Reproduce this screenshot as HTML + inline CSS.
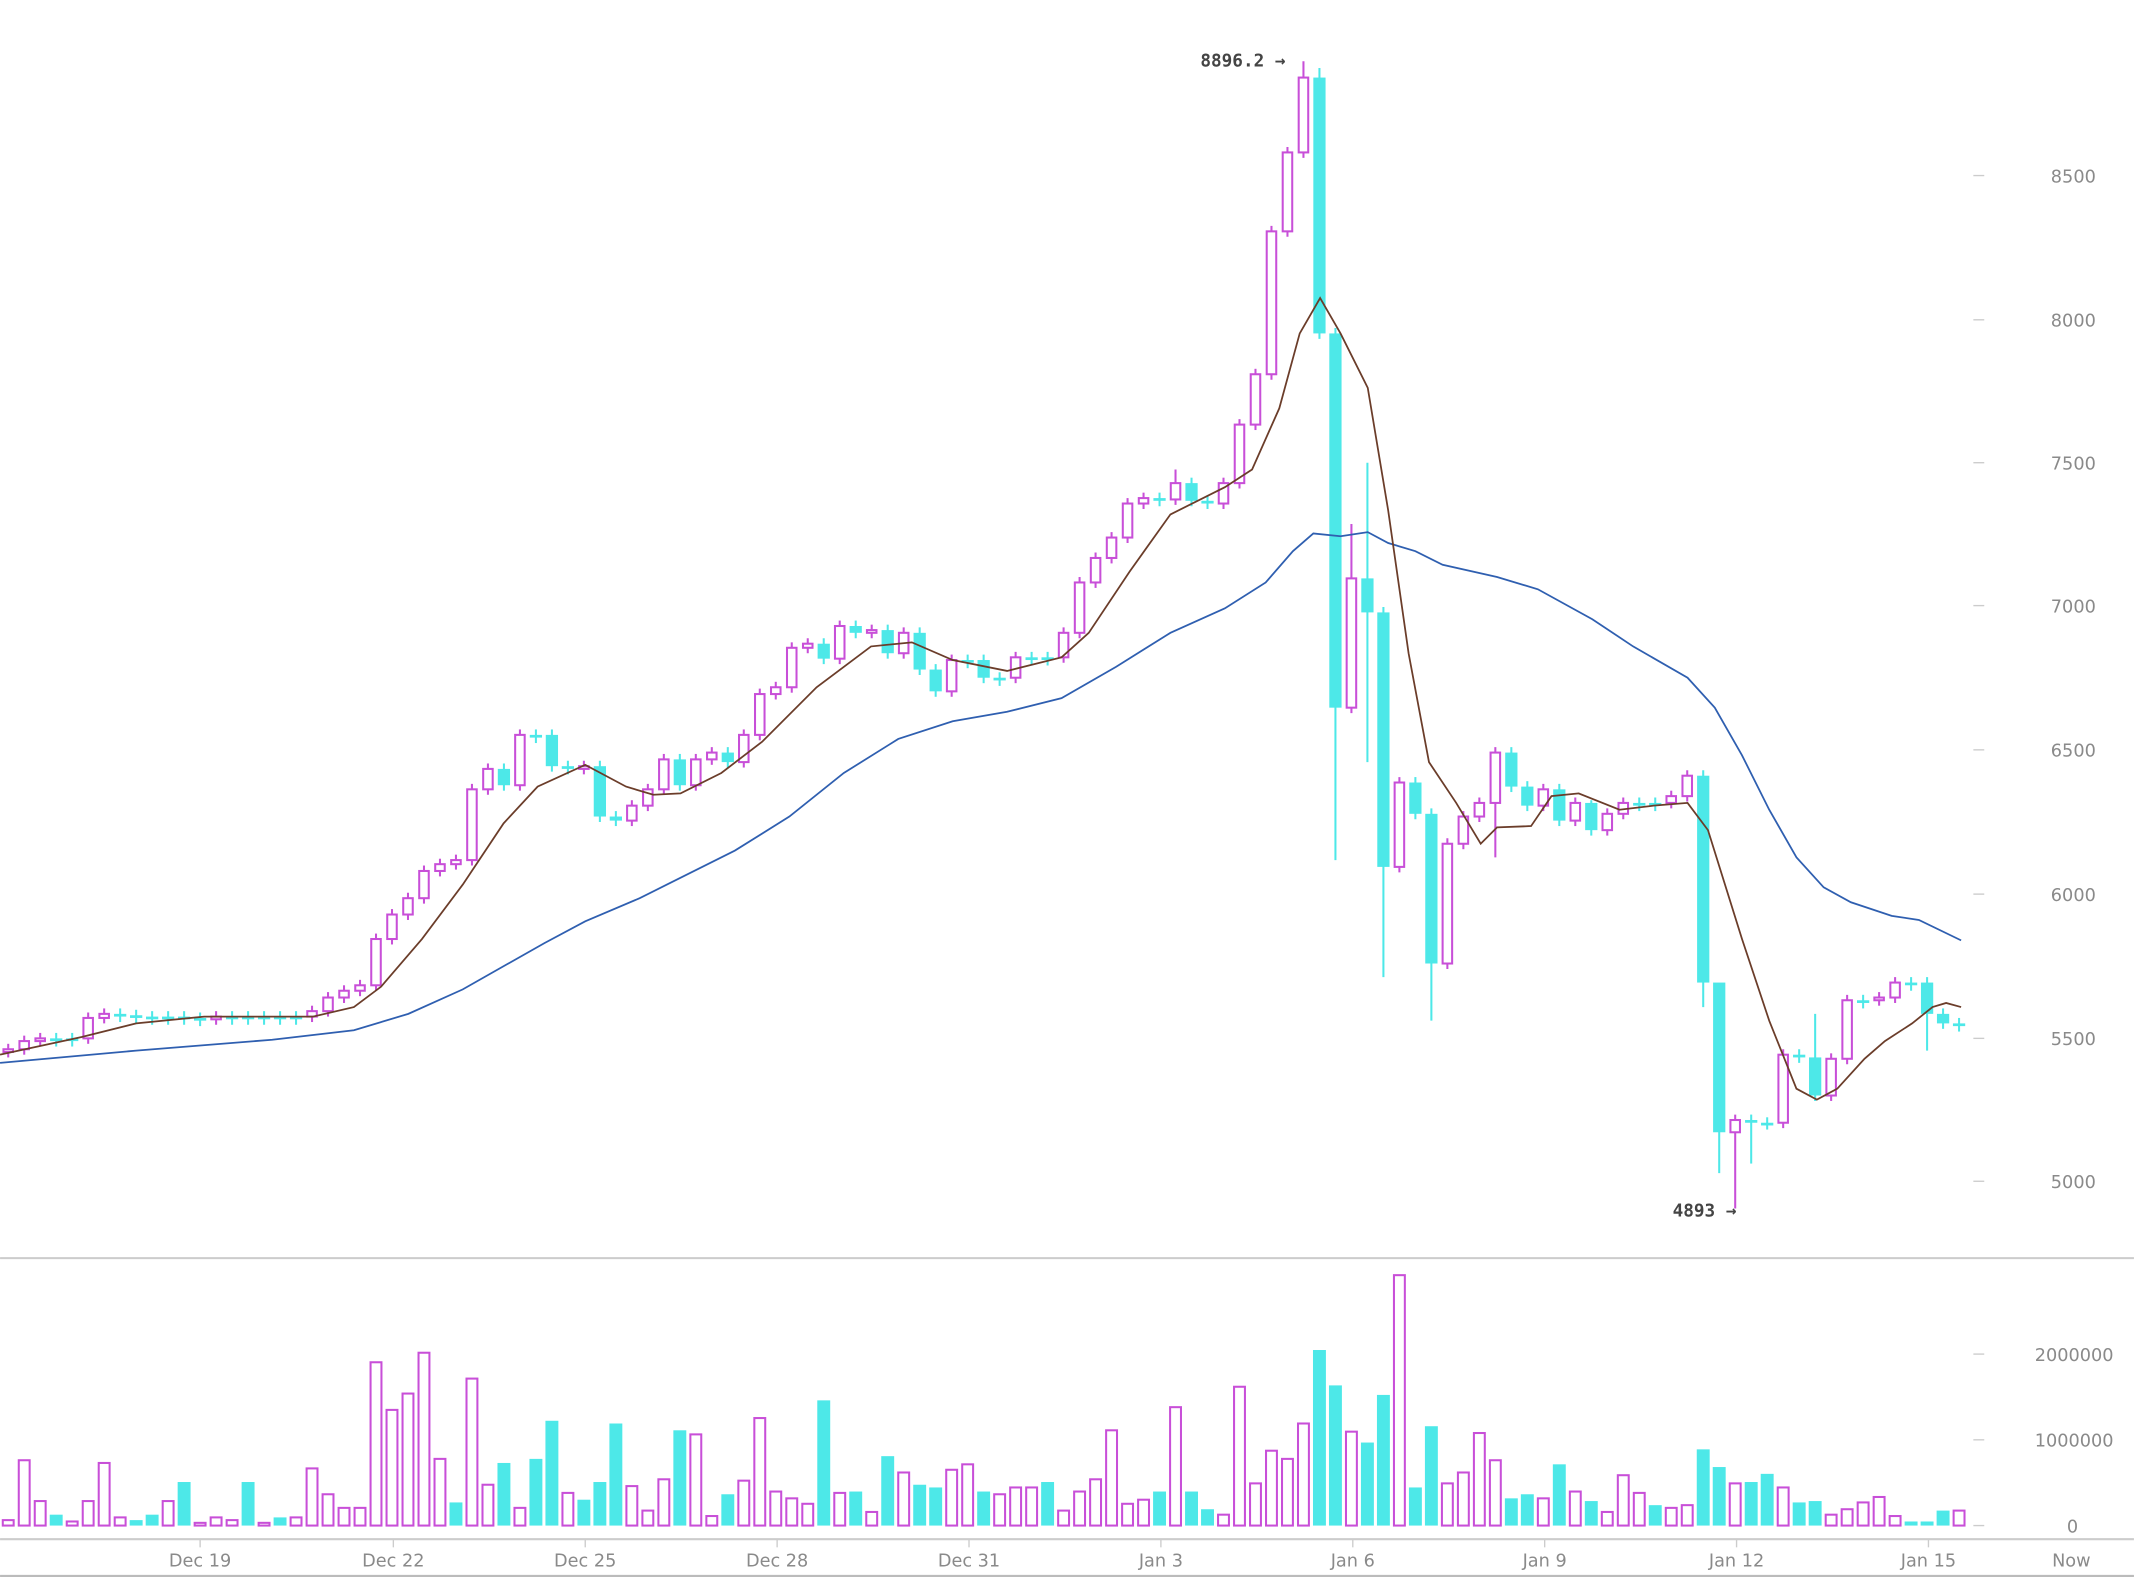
<!DOCTYPE html>
<html><head><meta charset="utf-8"><style>
html,body{margin:0;padding:0;background:#fff;}
svg{display:block;}
text{font-family:"DejaVu Sans","Liberation Sans",sans-serif;fill:#8a8a8a;font-size:13px;}
.b{font-family:"DejaVu Sans Mono","Liberation Mono",monospace;font-weight:bold;fill:#444;font-size:13px;}
</style></head><body>
<svg id="s" width="2134" height="1580" viewBox="0 0 1568 1161" xmlns="http://www.w3.org/2000/svg">
<rect width="1568" height="1161" fill="#fff"/>
<g stroke="#ccc" stroke-width="1">
<line x1="1450" x2="1458" y1="129" y2="129"/><line x1="1450" x2="1458" y1="235" y2="235"/>
<line x1="1450" x2="1458" y1="340" y2="340"/><line x1="1450" x2="1458" y1="445" y2="445"/>
<line x1="1450" x2="1458" y1="551" y2="551"/><line x1="1450" x2="1458" y1="657" y2="657"/>
<line x1="1450" x2="1458" y1="763" y2="763"/><line x1="1450" x2="1458" y1="868" y2="868"/>
<line x1="1450" x2="1458" y1="995" y2="995"/><line x1="1450" x2="1458" y1="1058" y2="1058"/>
<line x1="1450" x2="1458" y1="1121" y2="1121"/>
</g>
<line x1="0" x2="1568" y1="924.5" y2="924.5" stroke="#ccc" stroke-width="1.5"/>
<line x1="0" x2="1568" y1="1131" y2="1131" stroke="#ccc" stroke-width="1.5"/>
<line x1="0" x2="1568" y1="1158" y2="1158" stroke="#bbb" stroke-width="1.5"/>
<g stroke="#ccc"><line x1="147" x2="147" y1="1131" y2="1137"/><line x1="289" x2="289" y1="1131" y2="1137"/><line x1="430" x2="430" y1="1131" y2="1137"/><line x1="571" x2="571" y1="1131" y2="1137"/><line x1="712" x2="712" y1="1131" y2="1137"/><line x1="853" x2="853" y1="1131" y2="1137"/><line x1="994" x2="994" y1="1131" y2="1137"/><line x1="1135" x2="1135" y1="1131" y2="1137"/><line x1="1276" x2="1276" y1="1131" y2="1137"/><line x1="1417" x2="1417" y1="1131" y2="1137"/></g>
<g text-anchor="end">
<text x="1540" y="134">8500</text><text x="1540" y="240">8000</text><text x="1540" y="345">7500</text>
<text x="1540" y="450">7000</text><text x="1540" y="556">6500</text><text x="1540" y="662">6000</text>
<text x="1540" y="768">5500</text><text x="1540" y="873">5000</text>
<text x="1553" y="1000">2000000</text><text x="1553" y="1063">1000000</text><text x="1527" y="1126">0</text>
</g>
<g text-anchor="middle">
<text x="147" y="1151">Dec 19</text><text x="289" y="1151">Dec 22</text><text x="430" y="1151">Dec 25</text>
<text x="571" y="1151">Dec 28</text><text x="712" y="1151">Dec 31</text><text x="853" y="1151">Jan 3</text>
<text x="994" y="1151">Jan 6</text><text x="1135" y="1151">Jan 9</text><text x="1276" y="1151">Jan 12</text>
<text x="1417" y="1151">Jan 15</text><text x="1522" y="1151">Now</text>
</g>
<text class="b" x="882" y="49">8896.2 →</text>
<text class="b" x="1229" y="894">4893 →</text>
<g id="vol"></g><g id="cdl"></g>
<polyline fill="none" stroke="#2f5fb0" stroke-width="1.3" points="0,781 100,772 200,764 260,757 300,745 340,727 400,693 430,677 470,660 490,650 540,625 580,600 620,568 660,543 700,530 740,523 780,513 820,490 860,465 900,447 930,428 950,405 965,392 985,394 1005,391 1020,399 1040,405 1060,415 1100,424 1130,433 1170,455 1200,475 1240,498 1260,520 1280,555 1300,595 1320,630 1340,652 1360,663 1390,673 1410,676 1441,691"/>
<polyline fill="none" stroke="#6b3d2a" stroke-width="1.3" points="0,775 60,762 100,752 150,747 230,747 260,740 280,725 310,690 340,650 370,605 395,578 430,562 460,578 480,584 500,583 530,568 560,545 600,505 640,475 670,472 700,485 740,493 780,483 800,465 830,420 860,378 900,358 920,345 940,300 955,245 970,219 985,245 1005,285 1020,375 1035,480 1050,560 1070,590 1088,620 1100,608 1125,607 1140,585 1160,583 1190,595 1215,592 1240,590 1255,610 1280,690 1300,750 1320,800 1335,808 1350,800 1370,778 1385,765 1405,752 1420,740 1430,737 1441,740"/>
</svg>
<script>
var M="#c84fd8",C="#4de8e8";
var vol=[[1117,'m'],[1073,'m'],[1103,'m'],[1113,'c'],[1118,'m'],[1103,'m'],[1075,'m'],[1115,'m'],[1117,'c'],[1113,'c'],[1103,'m'],[1089,'c'],[1119,'m'],[1115,'m'],[1117,'m'],[1089,'c'],[1119,'m'],[1115,'c'],[1115,'m'],[1079,'m'],[1098,'m'],[1108,'m'],[1108,'m'],[1001,'m'],[1036,'m'],[1024,'m'],[994,'m'],[1072,'m'],[1104,'c'],[1013,'m'],[1091,'m'],[1075,'c'],[1108,'m'],[1072,'c'],[1044,'c'],[1097,'m'],[1102,'c'],[1089,'c'],[1046,'c'],[1092,'m'],[1110,'m'],[1087,'m'],[1051,'c'],[1054,'m'],[1114,'m'],[1098,'c'],[1088,'m'],[1042,'m'],[1096,'m'],[1101,'m'],[1105,'m'],[1029,'c'],[1097,'m'],[1096,'c'],[1111,'m'],[1070,'c'],[1082,'m'],[1091,'c'],[1093,'c'],[1080,'m'],[1076,'m'],[1096,'c'],[1098,'m'],[1093,'m'],[1093,'m'],[1089,'c'],[1110,'m'],[1096,'m'],[1087,'m'],[1051,'m'],[1105,'m'],[1102,'m'],[1096,'c'],[1034,'m'],[1096,'c'],[1109,'c'],[1113,'m'],[1019,'m'],[1090,'m'],[1066,'m'],[1072,'m'],[1046,'m'],[992,'c'],[1018,'c'],[1052,'m'],[1060,'c'],[1025,'c'],[937,'m'],[1093,'c'],[1048,'c'],[1090,'m'],[1082,'m'],[1053,'m'],[1073,'m'],[1101,'c'],[1098,'c'],[1101,'m'],[1076,'c'],[1096,'m'],[1103,'c'],[1111,'m'],[1084,'m'],[1097,'m'],[1106,'c'],[1108,'m'],[1106,'m'],[1065,'c'],[1078,'c'],[1090,'m'],[1089,'c'],[1083,'c'],[1093,'m'],[1104,'c'],[1103,'c'],[1113,'m'],[1109,'m'],[1104,'m'],[1100,'m'],[1114,'m'],[1118,'c'],[1118,'c'],[1110,'c'],[1110,'m']];
var cl=[771,765,763,763,763,748,745,746,747,747,747,748,749,747,747,747,747,747,747,743,733,728,724,690,672,660,640,635,632,580,565,577,540,540,563,565,563,600,603,592,580,558,577,558,553,560,540,510,505,476,473,484,460,465,463,480,465,492,508,485,485,498,498,483,483,483,465,428,410,395,370,366,367,355,368,370,355,312,275,170,112,57,245,520,425,450,637,575,598,708,620,600,590,553,578,592,580,603,590,610,598,590,590,590,585,570,722,832,823,825,825,775,777,805,778,735,735,733,722,722,745,752,753];
var hi={81:45,82:50,84:385,85:340,99:588,107:790,113:745,73:345},lo={83:632,86:718,89:750,85:560,107:862,108:888,109:855,106:740,120:772,93:630,110:830};
var ns="http://www.w3.org/2000/svg";
function el(g,t,a){var e=document.createElementNS(ns,t);for(var k in a)e.setAttribute(k,a[k]);document.getElementById(g).appendChild(e);}
for(var i=0;i<vol.length;i++){var x=6+i*11.75,v=vol[i],col=v[1]=='m'?M:C;
 if(v[1]=='m')el('vol','rect',{x:x-4,y:v[0],width:8,height:1121-v[0],fill:'#fff',stroke:col,'stroke-width':1.5});
 else el('vol','rect',{x:x-4.75,y:v[0],width:9.5,height:1121-v[0],fill:col});}
for(var i=0;i<cl.length;i++){var x=6+i*11.75,o=i?cl[i-1]:773,c=cl[i];
 var t=Math.min(o,c),b=Math.max(o,c);if(b-t<2){b=t+2;}
 var h=hi[i]!==undefined?hi[i]:t-4,l=lo[i]!==undefined?lo[i]:b+4;
 var up=c<o,col=up?M:C;
 el('cdl','line',{x1:x,x2:x,y1:h,y2:l,stroke:col,'stroke-width':1.5});
 if(up)el('cdl','rect',{x:x-3.5,y:t,width:7,height:b-t,fill:'#fff',stroke:col,'stroke-width':1.5});
 else el('cdl','rect',{x:x-4.5,y:t,width:9,height:b-t,fill:col});}
</script>
</body></html>
